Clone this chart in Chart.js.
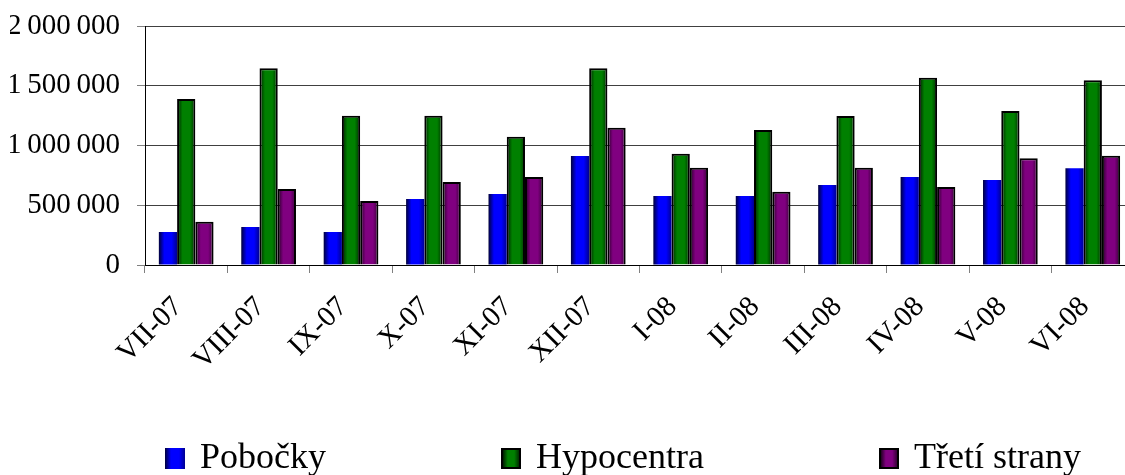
<!DOCTYPE html>
<html>
<head>
<meta charset="utf-8">
<script src="https://cdn.jsdelivr.net/npm/chart.js@4/dist/chart.umd.min.js"></script>
<style>
  html, body { margin: 0; padding: 0; background: #fff; overflow: hidden; width: 1125px; height: 475px; }
  #wrap { position: absolute; left: 0; top: 0; width: 1135px; height: 475px; }
  #legend {
    position: absolute; left: 165px; top: 438px; display: flex; gap: 175px;
    font-family: "Liberation Serif", "Times New Roman", serif; font-size: 36px; line-height: 36px; color: #000;
  }
  .item { display: flex; align-items: center; white-space: nowrap; }
  .sw { display: inline-block; width: 20px; height: 21px; box-sizing: border-box; margin-right: 15px; margin-top: 4px; }
</style>
</head>
<body>
<div id="wrap"><canvas id="c"></canvas></div>
<div id="legend"></div>
<script>
// Monthly volumes July 2007 – June 2008
const categories = ['VII-07', 'VIII-07', 'IX-07', 'X-07', 'XI-07', 'XII-07',
                    'I-08', 'II-08', 'III-08', 'IV-08', 'V-08', 'VI-08'];
const pobocky     = [276000, 318000, 276000, 552000, 594000, 912000, 577000, 577000, 669000, 736000, 711000, 809000];
const hypocentra  = [1389000, 1646000, 1250000, 1250000, 1074000, 1646000, 931000, 1130000, 1247000, 1567000, 1289000, 1546000];
const tretiStrany = [362000, 636000, 536000, 695000, 736000, 1149000, 814000, 614000, 814000, 653000, 893000, 915000];
const seriesNames = ['Pobočky', 'Hypocentra', 'Třetí strany'];
const yTickLabels = ['0', '500\u2009000', '1\u2009000\u2009000', '1\u2009500\u2009000', '2\u2009000\u2009000'];

const CAT_PCT = 0.664;

// edge / centre / centre / edge colours of the cylinder-like shading
const shades = [
  ['#00003a', '#0000ff', '#0000ff', '#000090'],
  ['#001c00', '#008000', '#008000', '#003000'],
  ['#220022', '#800080', '#800080', '#350035']
];

function shade(ctx) {
  const chart = ctx.chart;
  const xs = chart.scales.x;
  const s = shades[ctx.datasetIndex];
  if (ctx.type !== 'data' || !xs || !chart.chartArea) return s[1];
  const n = chart.data.datasets.length;
  const cat = xs.width / chart.data.labels.length;
  const group = cat * CAT_PCT;
  const bw = group / n;
  const left = xs.getPixelForValue(ctx.dataIndex) - group / 2 + ctx.datasetIndex * bw;
  const g = chart.ctx.createLinearGradient(left, 0, left + bw, 0);
  g.addColorStop(0, s[0]);
  g.addColorStop(0.3, s[1]);
  g.addColorStop(0.7, s[2]);
  g.addColorStop(1, s[3]);
  return g;
}

// legend rendered as HTML under the canvas, built from the datasets
const htmlLegend = {
  id: 'htmlLegend',
  afterUpdate(chart) {
    const box = document.getElementById('legend');
    box.innerHTML = '';
    chart.data.datasets.forEach((ds, i) => {
      const item = document.createElement('div');
      item.className = 'item';
      const sw = document.createElement('span');
      sw.className = 'sw';
      const s = shades[i];
      sw.style.background = `linear-gradient(to right, ${s[0]}, ${s[1]} 30%, ${s[2]} 70%, ${s[3]})`;
      sw.style.border = ds.borderWidth ? `2px solid ${ds.borderColor}` : 'none';
      const t = document.createElement('span');
      t.textContent = ds.label;
      item.append(sw, t);
      box.append(item);
    });
  }
};

Chart.defaults.font.family = '"Liberation Serif", "Times New Roman", serif';
Chart.defaults.color = '#000';

const seriesValues = [pobocky, hypocentra, tretiStrany];
const borders = [0, 2, 2];

new Chart(document.getElementById('c'), {
  type: 'bar',
  data: {
    labels: categories,
    datasets: seriesValues.map((vals, i) => ({
      label: seriesNames[i],
      data: vals,
      backgroundColor: shade,
      borderColor: '#000',
      borderWidth: borders[i],
      barPercentage: 1,
      categoryPercentage: CAT_PCT
    }))
  },
  options: {
    responsive: true,
    maintainAspectRatio: false,
    animation: false,
    layout: { padding: { left: 10, top: 26, right: 1, bottom: 100 } },
    plugins: { legend: { display: false }, tooltip: { enabled: false } },
    scales: {
      x: {
        grid: { offset: true, drawOnChartArea: false, drawTicks: true, tickLength: 8, color: '#808080' },
        border: { color: '#000', width: 1 },
        ticks: { autoSkip: false, minRotation: 45, maxRotation: 45, padding: 17, labelOffset: -8, font: { size: 29 } },
        // rotated labels may overhang the plot on the left, like the y labels do
        afterFit(scale) { scale.height = 110; scale.paddingLeft = 0; scale.paddingRight = 0; }
      },
      y: {
        min: 0,
        max: 2000000,
        ticks: { stepSize: 500000, padding: 17, font: { size: 29 }, callback: (v, i) => yTickLabels[i] },
        grid: { color: '#404040', tickLength: 8, tickColor: '#808080' },
        border: { color: '#000', width: 1 },
        afterFit(scale) { scale.width = 135; scale.paddingTop = 0; scale.paddingBottom = 0; }
      }
    }
  },
  plugins: [htmlLegend]
});
</script>
</body>
</html>
